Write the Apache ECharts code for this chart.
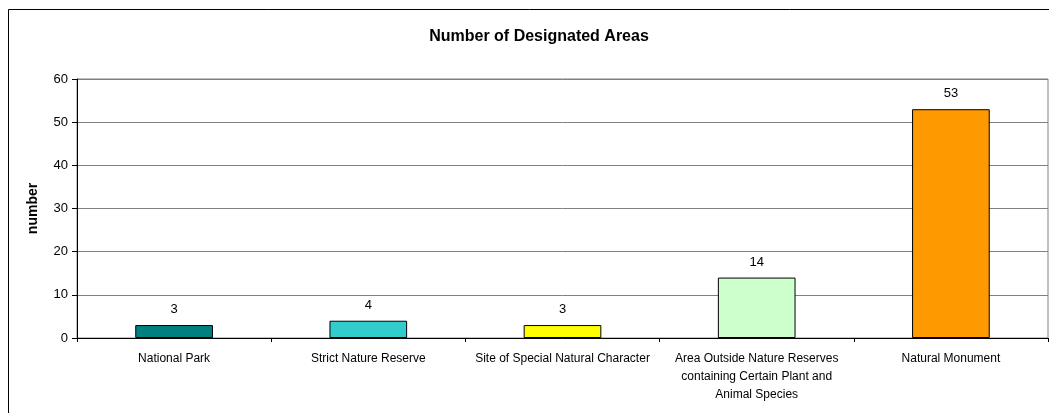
<!DOCTYPE html>
<html>
<head>
<meta charset="utf-8">
<script src="https://cdn.jsdelivr.net/npm/echarts@6/dist/echarts.min.js"></script>
<style>
  html, body { margin: 0; padding: 0; background: #fff; }
  #chart { width: 1049px; height: 413px; }
</style>
</head>
<body>
<div id="chart"></div>
<script>
// Designated protected-area types and how many of each exist
const categories = [
  'National Park',
  'Strict Nature Reserve',
  'Site of Special Natural Character',
  'Area Outside Nature Reserves\ncontaining Certain Plant and\nAnimal Species',
  'Natural Monument'
];
const counts = [3, 4, 3, 14, 53];
const barColors = ['#008080', '#33CCCC', '#FFFF00', '#CCFFCC', '#FF9900'];
const yTicks = [0, 10, 20, 30, 40, 50, 60];

const FONT = '"Liberation Sans", Arial, sans-serif';

const chart = echarts.init(document.getElementById('chart'));
chart.setOption({
  animation: false,
  backgroundColor: '#fff',
  textStyle: { fontFamily: FONT },
  title: {
    text: 'Number of Designated Areas',
    left: 534,
    top: 24,
    textAlign: 'center',
    textStyle: { fontFamily: FONT, fontSize: 16, fontWeight: 'bold', color: '#000' }
  },
  graphic: [{
    type: 'rect',
    shape: { x: 8.5, y: 9.5, width: 1100, height: 500 },
    style: { fill: 'none', stroke: '#000', lineWidth: 1 },
    silent: true,
    z: 100
  }],
  grid: {
    left: 77, right: 1, top: 79, bottom: 75,
    show: true, borderColor: '#808080', borderWidth: 1, backgroundColor: '#fff'
  },
  xAxis: {
    type: 'category',
    data: categories,
    axisLine: { show: true, lineStyle: { color: '#000', width: 1 } },
    axisTick: { show: true, length: 4, alignWithLabel: false, lineStyle: { color: '#000' } },
    axisLabel: {
      interval: 0, margin: 12, fontSize: 12, lineHeight: 18, color: '#000', fontFamily: FONT
    },
    splitLine: { show: false }
  },
  yAxis: {
    type: 'value',
    min: yTicks[0],
    max: yTicks[yTicks.length - 1],
    interval: 10,
    name: 'number',
    nameLocation: 'middle',
    nameGap: 37,
    nameRotate: 90,
    nameTextStyle: { fontFamily: FONT, fontSize: 14, fontWeight: 'bold', color: '#000' },
    axisLine: { show: true, lineStyle: { color: '#000', width: 1 } },
    axisTick: { show: true, length: 5, lineStyle: { color: '#000' } },
    axisLabel: { fontSize: 13, margin: 9, color: '#000', fontFamily: FONT },
    splitLine: { show: true, lineStyle: { color: '#808080', width: 1 } }
  },
  series: [{
    type: 'bar',
    data: counts.map((v, i) => ({
      value: v,
      itemStyle: { color: barColors[i] }
    })),
    barWidth: '40%',
    itemStyle: { borderColor: '#000', borderWidth: 1 },
    label: {
      show: true,
      position: 'top',
      distance: 9,
      fontSize: 13,
      color: '#000',
      fontFamily: FONT
    }
  }]
});
</script>
</body>
</html>
